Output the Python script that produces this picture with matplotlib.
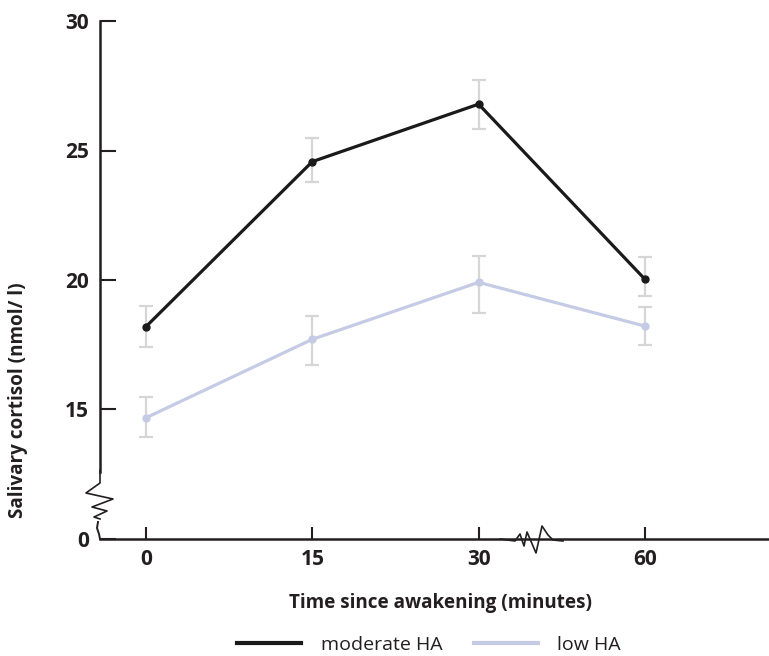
import matplotlib.pyplot as plt
import numpy as np
from matplotlib.lines import Line2D

plt.rcParams['font.family'] = ['Open Sans', 'DejaVu Sans']

# data
timeLabels = ['0', '15', '30', '60']
moderateMean = [18.2, 24.57, 26.79, 20.03]
moderateUpper = [19.0, 25.48, 27.73, 20.88]
moderateLower = [17.4, 23.78, 25.84, 19.40]
lowMean = [14.68, 17.71, 19.91, 18.22]
lowUpper = [15.5, 18.61, 20.93, 18.97]
lowLower = [13.94, 16.72, 18.71, 17.49]
yTicks = [10, 15, 20, 25, 30]
yTickLabels = ['0', '15', '20', '25', '30']

W, H = 769, 656
axisColor = '#231f20'
blackLine = '#1a1a1a'
blueLine = '#c5cbe4'
errColor = '#d6d6d6'

fig = plt.figure(figsize=(W/100, H/100), dpi=100)
ax = fig.add_axes([100/W, 1-539/H, 1-100/W, (539-21)/H])

x = np.arange(len(timeLabels))


def errs(mean, lower, upper):
    mean = np.array(mean)
    return [mean-np.array(lower), np.array(upper)-mean]


ax.errorbar(x, moderateMean, yerr=errs(moderateMean, moderateLower, moderateUpper),
            fmt='none', ecolor=errColor, elinewidth=1.6, capsize=5, capthick=1.6, zorder=1)
ax.errorbar(x, lowMean, yerr=errs(lowMean, lowLower, lowUpper),
            fmt='none', ecolor=errColor, elinewidth=1.6, capsize=5, capthick=1.6, zorder=1)
ax.plot(x, moderateMean, color=blackLine, lw=2.3, marker='o', ms=5, zorder=3,
        label='moderate HA')
ax.plot(x, lowMean, color=blueLine, lw=2.3, marker='o', ms=5, zorder=2,
        label='low HA')

ax.set_xlim(-46/166.3, (769-146)/166.3)
ax.set_ylim(10, 30)
ax.set_xticks(x)
ax.set_xticklabels(timeLabels)
ax.set_yticks(yTicks)
ax.set_yticklabels(yTickLabels)

for s in ['top', 'right']:
    ax.spines[s].set_visible(False)
for s in ['left', 'bottom']:
    ax.spines[s].set_linewidth(1.8)
    ax.spines[s].set_color(axisColor)
ax.spines['left'].set_bounds(12.6, 30)

ax.tick_params(axis='y', direction='in', length=11.5, width=1.5, color=axisColor,
               pad=8, labelsize=15, labelcolor=axisColor)
ax.tick_params(axis='x', direction='in', length=9, width=1.5, color=axisColor,
               pad=7, labelsize=15, labelcolor=axisColor)
for lab in ax.get_xticklabels() + ax.get_yticklabels():
    lab.set_fontweight('bold')


def px(xs, ys):
    return [v/W for v in xs], [1-v/H for v in ys]


# axis break marks
zx, zy = px([100, 100, 86, 113, 92, 107, 94, 100], [470, 483, 493, 499, 507, 511, 517, 519])
fig.add_artist(Line2D(zx, zy, color=axisColor, lw=1.2))
zx, zy = px([98, 97, 99, 100], [522, 528, 534, 539])
fig.add_artist(Line2D(zx, zy, color=axisColor, lw=1.4))
zx, zy = px([500, 515, 520, 524, 527, 536, 542, 548, 553, 563],
            [539, 541, 534, 546, 532, 553, 526, 535, 540, 541])
fig.add_artist(Line2D(zx, zy, color=axisColor, lw=1.2))

fig.text(440/W, 1-608/H, 'Time since awakening (minutes)', ha='center', va='baseline',
         fontsize=13.6, fontweight='bold', color=axisColor)
fig.text(18/W, 1-400/H, 'Salivary cortisol (nmol/ l)', ha='center', va='center',
         rotation=90, fontsize=13.6, fontweight='bold', color=axisColor)

fig.legend(loc='center', bbox_to_anchor=(429/W, 1-645/H), ncol=2, frameon=False,
           fontsize=14, handlelength=3.3, handletextpad=1.0, columnspacing=1.6)
leg = fig.legends[0]
for h in leg.legend_handles:
    h.set_marker('')
    h.set_linewidth(3)
for t in leg.get_texts():
    t.set_color(axisColor)

fig.savefig('out.png', dpi=100)
